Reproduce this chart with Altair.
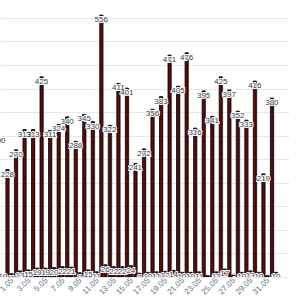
import altair as alt
import pandas as pd

days = list(range(0, 33))
big_values = [300, 228, 270, 313, 313, 425, 311, 324, 340, 288, 345, 330, 556, 322, 411, 401,
              241, 272, 356, 383, 471, 405, 476, 316, 395, 341, 425, 397, 352, 333, 416, 219, 380]
small_values = [10, 7, 13, 15, 19, 19, 20, 22, 21, 9, 15, 11, 26, 22, 22, 24,
                8, 10, 11, 12, 14, 10, 10, 11, 3, 11, 17, 4, 10, 13, 10, 3, 10]
tick_days = list(range(1, 32, 2))
grid_values = list(range(0, 600, 50))

rows = []
for d, b, s in zip(days, big_values, small_values):
    rows.append({"day": d, "series": "big", "value": b})
    rows.append({"day": d, "series": "small", "value": s})
df = pd.DataFrame(rows)

xscale = alt.Scale(domain=[0.17, 32.87], nice=False, zero=False)
yscale = alt.Scale(domain=[0, 588], nice=False)

base = alt.Chart(df).transform_calculate(
    pos="datum.day + (datum.series == 'big' ? -0.55 : -0.08)"
)
bar_base = base.transform_filter("datum.day > 0")

xaxis = alt.Axis(values=tick_days, labelExpr="datum.value + '.05'", labelAngle=-45,
                 labelAlign="right", labelBaseline="middle", ticks=False, domain=False,
                 grid=False, labelFontSize=8, labelColor="#5f7286", labelPadding=2,
                 labelFont="Liberation Sans", title=None, labelOverlap=False,
                 labelBound=False, labelFlush=False)
yaxis = alt.Axis(values=grid_values, labels=False, ticks=False, domain=False,
                 grid=True, gridColor="#e8e8e8", title=None)

xenc = alt.X("pos:Q", scale=xscale, axis=xaxis)
yenc = alt.Y("value:Q", scale=yscale, axis=yaxis)

shadow = bar_base.mark_bar(width=3.0, color="#a0a0a0", xOffset=1.0, clip=True).encode(x=xenc, y=yenc)
bars = bar_base.mark_bar(width=3.0, color="#5c0a0a", stroke="#000000", strokeWidth=0.8, clip=True).encode(
    x=xenc, y=yenc)
halo = base.mark_text(fontSize=8, font="Liberation Sans", baseline="middle", dy=5, clip=True,
                      stroke="white", strokeWidth=2, color="white").encode(
    x=xenc, y=yenc, text="value:Q")
labels = base.mark_text(fontSize=8, font="Liberation Sans", baseline="middle", dy=5, clip=True,
                        color="#2f3d4c").encode(
    x=xenc, y=yenc, text="value:Q")

chart = alt.layer(shadow, bars, halo, labels).properties(
    width=289, height=277,
    autosize=alt.AutoSizeParams(type="none"),
    padding={"left": 0, "top": 0, "right": 9, "bottom": 23},
).configure_view(stroke=None).configure_axis(labelOverlap=False)

chart.save("out.html", embed_options={"renderer": "svg", "actions": False})
